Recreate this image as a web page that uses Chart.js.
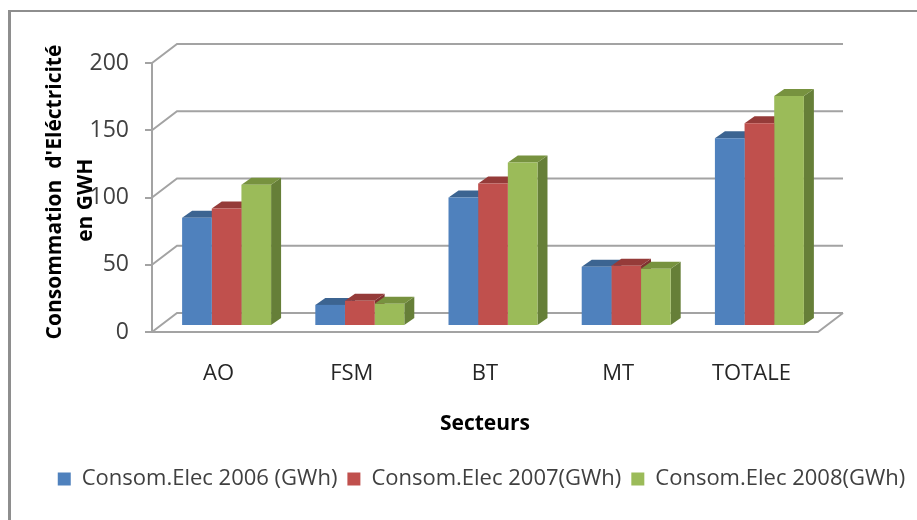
<!DOCTYPE html>
<html>
<head>
<meta charset="utf-8">
<script src="https://cdn.jsdelivr.net/npm/chart.js@4"></script>
<style>
html, body { margin: 0; padding: 0; background: #fff; }
#wrap { position: relative; width: 917px; height: 520px; overflow: hidden; }
#frame { position: absolute; left: 8px; top: 10px; width: 920px; height: 530px; border-left: 3px solid #8e8e8e; border-top: 2px solid #8e8e8e; }
canvas { position: absolute; left: 0; top: 0; }
</style>
</head>
<body>
<div id="wrap">
<div id="frame"></div>
<canvas id="myChart" width="917" height="520"></canvas>
</div>
<script>
const sectors = ['AO', 'FSM', 'BT', 'MT', 'TOTALE'];
const conso2006 = [80.5, 15.7, 95.5, 44, 139.5];
const conso2007 = [87.3, 18.7, 106, 44.8, 150.7];
const conso2008 = [105, 16.5, 121.6, 42.5, 171];
const yTicks = [0, 50, 100, 150, 200];
const seriesNames = ['Consom.Elec 2006 (GWh)', 'Consom.Elec 2007(GWh)', 'Consom.Elec 2008(GWh)'];

const frontColors = ['#4f81bd', '#c0504d', '#9bbb59'];
const topColors = ['#3c6491', '#953b39', '#77923f'];
const sideColors = ['#335680', '#7f3230', '#667f38'];

const gridColor = '#a3a3a3';
const wallDx = 25, wallDy = -19;   // depth of the floor
const barDx = 8, barDy = -6;       // bars stand a bit behind the front edge
const sideDx = 10, sideDy = -7;    // depth of each bar

function poly(ctx, pts, color) {
    ctx.fillStyle = color;
    ctx.beginPath();
    ctx.moveTo(pts[0][0], pts[0][1]);
    for (let i = 1; i < pts.length; i++) ctx.lineTo(pts[i][0], pts[i][1]);
    ctx.closePath();
    ctx.fill();
}

const box3d = {
    id: 'box3d',
    beforeDatasetsDraw(chart) {
        const ctx = chart.ctx, y = chart.scales.y, area = chart.chartArea;

        // walls: diagonal + back line for each tick
        ctx.save();
        ctx.strokeStyle = gridColor;
        ctx.lineWidth = 2;
        yTicks.forEach(v => {
            const py = y.getPixelForValue(v);
            ctx.beginPath();
            ctx.moveTo(area.left, py);
            ctx.lineTo(area.left + wallDx, py + wallDy);
            ctx.lineTo(area.right + wallDx, py + wallDy);
            ctx.stroke();
        });
        const floor = y.getPixelForValue(0);
        ctx.beginPath();
        ctx.moveTo(area.left, floor);
        ctx.lineTo(area.right, floor);
        ctx.lineTo(area.right + wallDx, floor + wallDy);
        ctx.stroke();
        ctx.restore();

        // bars sit further back, so move everything of theirs
        ctx.save();
        ctx.translate(barDx, barDy);
        chart.data.datasets.forEach((ds, i) => {
            chart.getDatasetMeta(i).data.forEach(bar => {
                const p = bar.getProps(['x', 'y', 'base', 'width'], true);
                const l = p.x - p.width / 2, r = p.x + p.width / 2;
                poly(ctx, [[r, p.y], [r + sideDx, p.y + sideDy], [r + sideDx, p.base + sideDy], [r, p.base]], sideColors[i]);
                poly(ctx, [[l, p.y], [l + sideDx, p.y + sideDy], [r + sideDx, p.y + sideDy], [r, p.y]], topColors[i]);
            });
        });
    },
    afterDatasetsDraw(chart) {
        chart.ctx.restore();
    }
};

const font = '"Open Sans", Lato, sans-serif';
const config = {
    type: 'bar',
    data: {
        labels: sectors,
        datasets: [conso2006, conso2007, conso2008].map((vals, i) => ({
            label: seriesNames[i],
            data: vals,
            backgroundColor: frontColors[i],
            borderWidth: 0,
            barPercentage: 1,
            categoryPercentage: 0.668
        }))
    },
    options: {
        responsive: false,
        animation: false,
        layout: { padding: { left: 46, right: 0, top: 63, bottom: 20 } },
        plugins: {
            tooltip: { enabled: false },
            legend: {
                position: 'bottom',
                labels: {
                    boxWidth: 13,
                    boxHeight: 13,
                    padding: 10,
                    color: '#404040',
                    font: { family: font, size: 22 }
                }
            }
        },
        scales: {
            x: {
                grid: { display: false },
                border: { display: false },
                ticks: { color: '#262626', padding: 21, font: { family: font, size: 22 } },
                title: {
                    display: true,
                    text: 'Secteurs',
                    color: '#000',
                    padding: { top: 24, bottom: 21 },
                    font: { family: font, size: 21, weight: 'bold' }
                },
                afterFit(scale) { scale.height = 126; }
            },
            y: {
                min: 0,
                max: 200,
                ticks: { stepSize: 50, color: '#404040', padding: 16, font: { family: font, size: 23 } },
                grid: { color: gridColor, lineWidth: 2, drawOnChartArea: false, tickLength: 7 },
                border: { color: gridColor, width: 2 },
                title: {
                    display: true,
                    text: ['\u00a0\u00a0Consommation  d\'Eléctricité', 'en GWH\u00a0'],
                    color: '#000',
                    padding: { top: -7, bottom: 0 },
                    font: { family: font, size: 21, weight: 'bold', lineHeight: 1.5 }
                },
                afterFit(scale) { scale.width = 106; }
            },
            // only keeps room at the right of the plot for the floor depth
            spacer: {
                position: 'right',
                grid: { display: false },
                border: { display: false },
                ticks: { display: false },
                afterFit(scale) { scale.width = 99; }
            }
        }
    },
    plugins: [box3d]
};

new Chart(document.getElementById('myChart').getContext('2d'), config);
</script>
</body>
</html>
